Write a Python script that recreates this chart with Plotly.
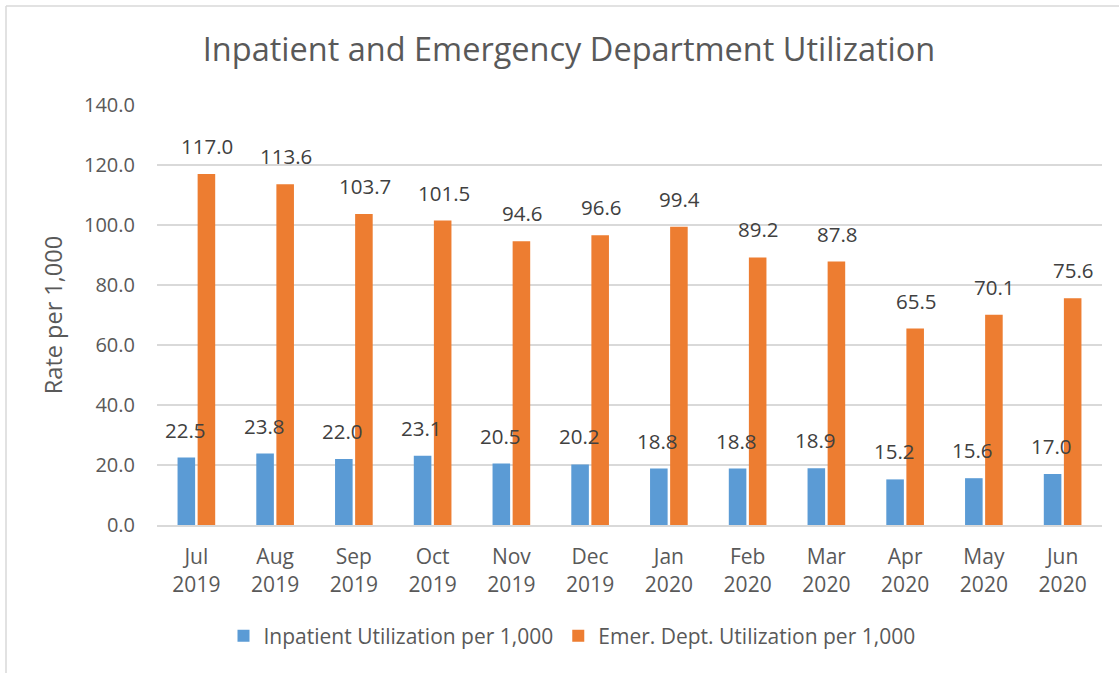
import plotly.graph_objects as go

months = ["Jul<br>2019", "Aug<br>2019", "Sep<br>2019", "Oct<br>2019", "Nov<br>2019", "Dec<br>2019",
          "Jan<br>2020", "Feb<br>2020", "Mar<br>2020", "Apr<br>2020", "May<br>2020", "Jun<br>2020"]
inpatient = [22.5, 23.8, 22.0, 23.1, 20.5, 20.2, 18.8, 18.8, 18.9, 15.2, 15.6, 17.0]
emergency = [117.0, 113.6, 103.7, 101.5, 94.6, 96.6, 99.4, 89.2, 87.8, 65.5, 70.1, 75.6]
series_names = ["Inpatient Utilization per 1,000", "Emer. Dept. Utilization per 1,000"]
y_ticks = [0, 20, 40, 60, 80, 100, 120, 140]

BLUE = "#5B9BD5"
ORANGE = "#ED7D31"
TXT = "#595959"
FONT = "Open Sans"

fig = go.Figure()
fig.add_trace(go.Bar(x=months, y=inpatient, name=series_names[0], marker_color=BLUE,
                     marker_line_width=0))
fig.add_trace(go.Bar(x=months, y=emergency, name=series_names[1], marker_color=ORANGE,
                     marker_line_width=0))

annotations = []
for vals, shift in ((inpatient, -11), (emergency, 11)):
    for m, v in zip(months, vals):
        annotations.append(dict(x=m, y=v, xref="x", yref="y", text=f"{v:.1f}",
                                showarrow=False, yanchor="bottom", xanchor="center",
                                xshift=shift, yshift=12,
                                font=dict(family=FONT, size=20.5, color="#404040")))

# chart border (left and top)
L, R, T, B = 157, 17, 105, 148
W, H = 1119, 673
pw, ph = W - L - R, H - T - B
def px_x(p):
    return (p - L) / pw
def px_y(p):
    return (H - B - p) / ph

shapes = [
    dict(type="line", xref="paper", yref="paper", x0=px_x(6), x1=px_x(6), y0=px_y(6), y1=px_y(673),
         line=dict(color="#D9D9D9", width=1.5)),
    dict(type="line", xref="paper", yref="paper", x0=px_x(6), x1=px_x(1119), y0=px_y(6), y1=px_y(6),
         line=dict(color="#D9D9D9", width=1.5)),
]

fig.update_layout(
    width=W, height=H,
    margin=dict(l=L, r=R, t=T, b=B),
    paper_bgcolor="white", plot_bgcolor="white",
    barmode="group", bargap=0.49, bargroupgap=0.125,
    title=dict(text="Inpatient and Emergency Department Utilization", x=569 / W, xanchor="center",
               xref="container", y=1 - 50 / H, yanchor="middle",
               font=dict(family=FONT, size=32.5, color=TXT)),
    font=dict(family=FONT, color=TXT),
    showlegend=True,
    legend=dict(orientation="h", x=(572 - L) / pw, xanchor="center", y=px_y(636), yanchor="middle",
                font=dict(family=FONT, size=21, color=TXT), itemwidth=30,
                traceorder="normal"),
    annotations=annotations,
    shapes=shapes,
)
fig.update_yaxes(range=[0, 140], tickvals=y_ticks, ticktext=[f"{t:.1f}" for t in y_ticks],
                 showgrid=True, gridcolor="#D9D9D9", gridwidth=2, zeroline=False,
                 showline=False, ticks="", ticklabelstandoff=21,
                 tickfont=dict(family=FONT, size=20, color=TXT),
                 title=dict(text="Rate per 1,000", font=dict(family=FONT, size=23.5, color=TXT),
                            standoff=14))
fig.update_xaxes(showgrid=False, showline=True, linecolor="#D9D9D9", linewidth=2, ticks="",
                 tickfont=dict(family=FONT, size=21, color=TXT), ticklabelstandoff=12)

fig.write_html("out.html", config={"displayModeBar": False},
               post_script="document.body.style.margin='0';")
